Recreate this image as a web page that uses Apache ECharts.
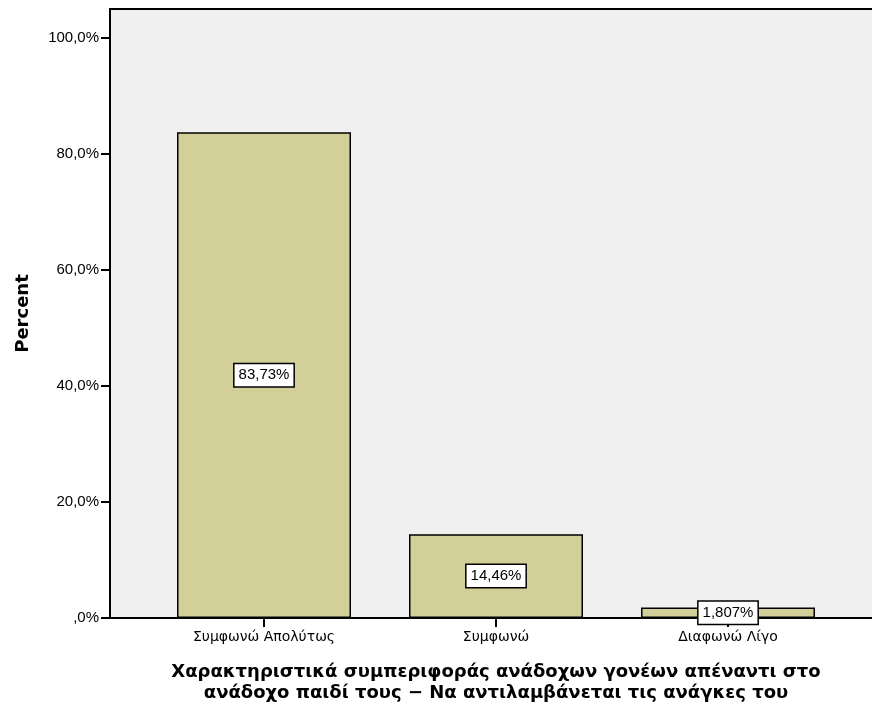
<!DOCTYPE html>
<html>
<head>
<meta charset="utf-8">
<script src="https://cdn.jsdelivr.net/npm/echarts@6/dist/echarts.min.js"></script>
<style>html,body{margin:0;padding:0;background:#fff;}#c{width:872px;height:709px;}</style>
</head>
<body>
<div id="c"></div>
<script>
const categories = ['Συμφωνώ Απολύτως', 'Συμφωνώ', 'Διαφωνώ Λίγο'];
const percentValues = [83.73, 14.46, 1.807];
const valueLabels = ['83,73%', '14,46%', '1,807%'];
const yTicks = [0, 20, 40, 60, 80, 100];
const yAxisTitle = 'Percent';
const xAxisTitle = 'Χαρακτηριστικά συμπεριφοράς ανάδοχων γονέων απέναντι στο\nανάδοχο παιδί τους − Να αντιλαμβάνεται τις ανάγκες του';

const FONT = '"Liberation Sans", Arial, sans-serif';
const WIDE = '"DejaVu Sans", sans-serif';
const chart = echarts.init(document.getElementById('c'), null, {renderer: 'canvas'});
function fmtY(v) {
  if (v === 0) return ',0%';
  return v.toFixed(1).replace('.', ',') + '%';
}
chart.setOption({
  animation: false,
  grid: [
    {left: 110, width: 772, top: 9, bottom: 91, show: true, backgroundColor: '#f0f0f0', borderColor: '#000', borderWidth: 2, containLabel: false, outerBoundsMode: 'none'},
    {left: 148, width: 696, top: 9, bottom: 91, containLabel: false, outerBoundsMode: 'none'}
  ],
  xAxis: [
    {gridIndex: 0, type: 'value', min: 0, max: 1, show: true,
     axisLine: {show: true, lineStyle: {color: '#000', width: 1.5}},
     axisTick: {show: false}, axisLabel: {show: false}, splitLine: {show: false},
     name: xAxisTitle, nameLocation: 'middle', nameGap: 44,
     nameTextStyle: {fontFamily: WIDE, fontSize: 18, fontWeight: 'bold', color: '#000', lineHeight: 21}},
    {gridIndex: 1, type: 'category', data: categories, boundaryGap: true,
     axisLine: {show: false},
     axisTick: {show: true, alignWithLabel: true, length: 9, lineStyle: {color: '#000', width: 2}},
     axisLabel: {fontFamily: WIDE, fontSize: 14, color: '#000', margin: 12}}
  ],
  yAxis: [
    {gridIndex: 0, type: 'value', min: 0, max: 105,
     axisLine: {show: true, lineStyle: {color: '#000', width: 2}},
     axisTick: {show: true, length: 9, customValues: yTicks, lineStyle: {color: '#000', width: 2}},
     axisLabel: {customValues: yTicks, formatter: fmtY, fontFamily: FONT, fontSize: 15, color: '#000', margin: 11},
     splitLine: {show: false},
     name: yAxisTitle, nameLocation: 'middle', nameGap: 78, nameRotate: 90,
     nameTextStyle: {fontFamily: WIDE, fontSize: 18, fontWeight: 'bold', color: '#000'}},
    {gridIndex: 1, type: 'value', min: 0, max: 105, show: false}
  ],
  series: [{
    type: 'bar', xAxisIndex: 1, yAxisIndex: 1,
    data: percentValues, barWidth: '75%',
    itemStyle: {color: '#d3cf98', borderColor: '#000', borderWidth: 1.5},
    label: {show: true, position: 'inside', formatter: p => valueLabels[p.dataIndex],
      fontFamily: FONT, fontSize: 15, color: '#000', backgroundColor: '#fff',
      borderColor: '#000', borderWidth: 1.5, padding: [4, 4, 3, 4]}
  }]
});
</script>
</body>
</html>
